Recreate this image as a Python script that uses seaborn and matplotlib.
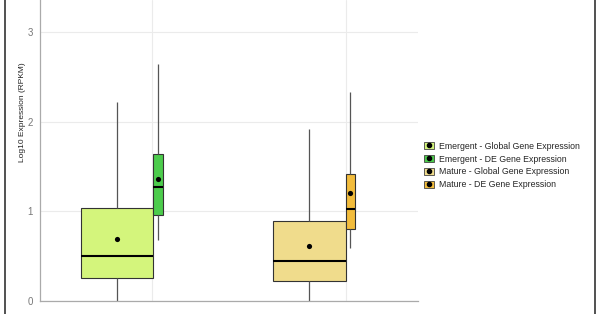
import numpy as np
import pandas as pd
import matplotlib
matplotlib.use("Agg")
import matplotlib.pyplot as plt
import seaborn as sns
from matplotlib.patches import Patch, Rectangle
from matplotlib.lines import Line2D
from matplotlib.legend_handler import HandlerTuple

# ---- data ----
stages = ["Emergent", "Emergent", "Mature", "Mature"]
sets = ["Global Gene Expression", "DE Gene Expression",
        "Global Gene Expression", "DE Gene Expression"]
whisker_low = [0.00, 0.68, 0.00, 0.59]
q1 = [0.25, 0.96, 0.22, 0.80]
median = [0.50, 1.27, 0.44, 1.02]
q3 = [1.04, 1.64, 0.89, 1.42]
whisker_high = [2.22, 2.65, 1.92, 2.33]
means = [0.69, 1.36, 0.61, 1.20]
labels = [f"{s} - {t}" for s, t in zip(stages, sets)]

# ---- style / layout ----
colors = ["#d4f57c", "#4ccc4c", "#f0dc8c", "#f2bc3c"]
group_pos = {"Emergent": 1, "Mature": 2}
box_left = [-0.367, 0.005, -0.375, -0.002]
box_width = [0.371, 0.052, 0.373, 0.046]

sns.set_style("white")
plt.rcParams["font.family"] = ["Liberation Sans", "DejaVu Sans"]

fig = plt.figure(figsize=(6, 3.14), dpi=100)
ax = fig.add_axes([40 / 600, (314 - 300.7) / 314, (418 - 40) / 600, 300.7 / 314])

# grid
for yv in [0, 1, 2, 3]:
    ax.axhline(yv, color="#ebebeb", lw=0.8, zorder=0)
for xv in [1, 2]:
    ax.axvline(xv, color="#ebebeb", lw=0.8, zorder=0)

centers = []
for i in range(4):
    c = group_pos[stages[i]] + box_left[i] + box_width[i] / 2
    centers.append(c)
    vals = [whisker_low[i], q1[i], median[i], q3[i], whisker_high[i]]
    df = pd.DataFrame({"x": [c] * 5, "y": vals})
    sns.boxplot(data=df, x="x", y="y", native_scale=True, width=box_width[i],
                whis=np.inf, color=colors[i], saturation=1, ax=ax,
                linecolor="#333333", linewidth=0.8,
                boxprops=dict(edgecolor="#333333", linewidth=0.8),
                whiskerprops=dict(color="#555555", linewidth=0.9),
                capprops=dict(linewidth=0),
                medianprops=dict(color="black", linewidth=1.5),
                zorder=2)

mdf = pd.DataFrame({"x": centers, "y": means})
sns.scatterplot(data=mdf, x="x", y="y", color="black", s=14, linewidth=0,
                ax=ax, zorder=5)

ax.set_xlim(1 - (152 - 40) / 194, 2 + (418 - 346) / 194)
ax.set_ylim(0, 300.7 / 89.5)
ax.set_xticks([])
ax.set_yticks([0, 1, 2, 3])
ax.set_yticklabels(["0", "1", "2", "3"], color="#777777", fontsize=7)
ax.tick_params(axis="y", length=0, pad=5)
ax.set_xlabel("")
ax.set_ylabel("Log10 Expression (RPKM)", fontsize=6.0, color="#222222")
ax.yaxis.set_label_coords((26 - 40) / 378, (300.7 - 112) / 300.7)
for s in ["top", "right"]:
    ax.spines[s].set_visible(False)
for s in ["left", "bottom"]:
    ax.spines[s].set_color("#aaaaaa")
    ax.spines[s].set_linewidth(0.9)
ax.set_facecolor("white")

# legend
handles = []
for i in range(4):
    p = Patch(facecolor=colors[i], edgecolor="#444444", linewidth=0.6)
    m = Line2D([], [], marker="o", color="black", linestyle="none", markersize=3)
    handles.append((p, m))
fig.legend(handles, labels, loc="center left", bbox_to_anchor=(416 / 600, (314 - 165.5) / 314),
           frameon=False, fontsize=6.3, handlelength=1.1, handleheight=0.9,
           handletextpad=0.6, labelspacing=0.45,
           handler_map={tuple: HandlerTuple(ndivide=1)})

# outer frame lines
fig.add_artist(Rectangle((5 / 600, -0.05), 590 / 600, 1.1, fill=False,
                         edgecolor="#333333", linewidth=1.2,
                         transform=fig.transFigure))

fig.savefig("out.png", dpi=100)
